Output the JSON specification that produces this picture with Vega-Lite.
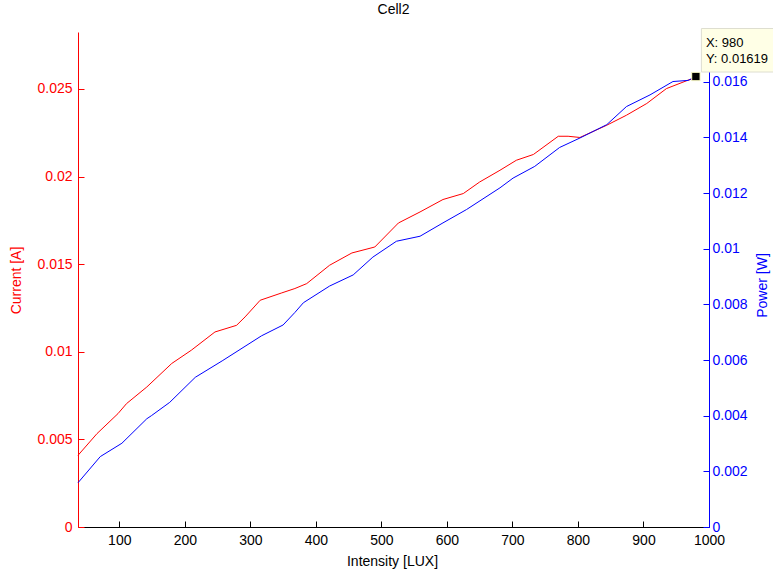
{
  "$schema": "https://vega.github.io/schema/vega-lite/v6.json",
  "width": 631,
  "height": 495,
  "autosize": {"type": "none"},
  "padding": {"left": 78, "top": 32, "right": 64, "bottom": 47},
  "background": "white",
  "config": {
    "view": {"stroke": null},
    "font": "Liberation Sans",
    "axis": {"labelFont": "Liberation Sans", "titleFont": "Liberation Sans", "labelFontSize": 14, "titleFontSize": 14, "titleFontWeight": "normal", "grid": false}
  },
  "title": {"text": "Cell2", "fontSize": 14, "fontWeight": "normal", "font": "Liberation Sans", "color": "#000000", "offset": 10, "anchor": "middle"},
  "datasets": {
    "current": [
      {"lux": 37, "current": 0.00409}, {"lux": 66, "current": 0.00533}, {"lux": 98, "current": 0.00647},
      {"lux": 111, "current": 0.00704}, {"lux": 142, "current": 0.00799}, {"lux": 180, "current": 0.00933},
      {"lux": 210, "current": 0.01009}, {"lux": 246, "current": 0.01113}, {"lux": 279, "current": 0.01151},
      {"lux": 292, "current": 0.01199}, {"lux": 315, "current": 0.01294}, {"lux": 348, "current": 0.01336},
      {"lux": 368, "current": 0.01361}, {"lux": 386, "current": 0.01389}, {"lux": 421, "current": 0.01494},
      {"lux": 455, "current": 0.01564}, {"lux": 490, "current": 0.01598}, {"lux": 526, "current": 0.01735},
      {"lux": 559, "current": 0.01798}, {"lux": 594, "current": 0.01869}, {"lux": 625, "current": 0.01903},
      {"lux": 650, "current": 0.01969}, {"lux": 681, "current": 0.02036}, {"lux": 706, "current": 0.02093},
      {"lux": 732, "current": 0.02126}, {"lux": 770, "current": 0.0223}, {"lux": 785, "current": 0.0223},
      {"lux": 803, "current": 0.02223}, {"lux": 844, "current": 0.02293}, {"lux": 874, "current": 0.0235},
      {"lux": 905, "current": 0.02417}, {"lux": 935, "current": 0.02502}, {"lux": 968, "current": 0.0255},
      {"lux": 980, "current": 0.02562}
    ],
    "power": [
      {"lux": 37, "power": 0.00159}, {"lux": 71, "power": 0.00253}, {"lux": 104, "power": 0.00301},
      {"lux": 142, "power": 0.00389}, {"lux": 149, "power": 0.004}, {"lux": 177, "power": 0.00448},
      {"lux": 216, "power": 0.00538}, {"lux": 257, "power": 0.00597},
      {"lux": 317, "power": 0.00687}, {"lux": 350, "power": 0.00726}, {"lux": 368, "power": 0.00771},
      {"lux": 381, "power": 0.00806}, {"lux": 421, "power": 0.00866}, {"lux": 457, "power": 0.00906},
      {"lux": 487, "power": 0.0097}, {"lux": 523, "power": 0.01027}, {"lux": 559, "power": 0.01045},
      {"lux": 594, "power": 0.01093}, {"lux": 630, "power": 0.01141}, {"lux": 681, "power": 0.01219},
      {"lux": 701, "power": 0.01254}, {"lux": 734, "power": 0.01296}, {"lux": 772, "power": 0.01364},
      {"lux": 803, "power": 0.01398}, {"lux": 844, "power": 0.01446}, {"lux": 874, "power": 0.01511},
      {"lux": 910, "power": 0.01553}, {"lux": 945, "power": 0.01601}, {"lux": 968, "power": 0.01605},
      {"lux": 980, "power": 0.01619}
    ],
    "tip": [{"lux": 980, "power": 0.01619}]
  },
  "layer": [
    {
      "data": {"name": "current"},
      "mark": {"type": "line", "color": "#ff0000", "strokeWidth": 1},
      "encoding": {
        "x": {
          "field": "lux", "type": "quantitative",
          "scale": {"domain": [37, 1000], "nice": false, "zero": false},
          "axis": {
            "title": "Intensity [LUX]", "values": [100, 200, 300, 400, 500, 600, 700, 800, 900, 1000], "format": "d",
            "domainColor": "#000000", "tickColor": "#000000", "labelColor": "#000000", "titleColor": "#000000",
            "tickSize": -6, "labelPadding": 12, "labelFlush": false, "labelOverlap": false,
            "titleX": 314, "titleY": 34, "titleBaseline": "middle", "titleAnchor": null
          }
        },
        "y": {
          "field": "current", "type": "quantitative",
          "scale": {"domain": [0, 0.02825], "nice": false},
          "axis": {
            "title": "Current [A]", "orient": "left", "values": [0, 0.005, 0.01, 0.015, 0.02, 0.025], "format": "~g",
            "domainColor": "#ff0000", "tickColor": "#ff0000", "labelColor": "#ff0000", "titleColor": "#ff0000",
            "tickSize": -6, "labelPadding": 12, "labelFlush": false, "labelOverlap": false,
            "titleX": -62, "titleY": 248, "titleAngle": 270, "titleBaseline": "middle", "titleAlign": "center"
          }
        }
      }
    },
    {
      "encoding": {
        "x": {"field": "lux", "type": "quantitative", "scale": {"domain": [37, 1000], "nice": false, "zero": false}},
        "y": {
          "field": "power", "type": "quantitative",
          "scale": {"domain": [0, 0.01779], "nice": false},
          "axis": {
            "title": "Power [W]", "orient": "right", "values": [0, 0.002, 0.004, 0.006, 0.008, 0.01, 0.012, 0.014, 0.016], "format": "~g",
            "domainColor": "#0000ff", "tickColor": "#0000ff", "labelColor": "#0000ff", "titleColor": "#0000ff",
            "tickSize": -6, "labelPadding": 9, "labelFlush": false, "labelOverlap": false,
            "titleX": 53, "titleY": 253, "titleAngle": 270, "titleBaseline": "middle", "titleAlign": "center"
          }
        }
      },
      "layer": [
        {
          "data": {"name": "power"},
          "mark": {"type": "line", "color": "#0000ff", "strokeWidth": 1}
        },
        {
          "data": {"name": "tip"},
          "mark": {"type": "point", "shape": "M0.11,-0.96H1.62V-0.09H0.11Z", "size": 10000, "filled": true, "fill": "#ffffe6", "stroke": "#deded0", "strokeWidth": 1, "opacity": 1}
        },
        {
          "data": {"name": "tip"},
          "mark": {"type": "point", "shape": "square", "size": 70, "filled": true, "fill": "#000000", "stroke": "#ffffcc", "strokeWidth": 1, "opacity": 1}
        },
        {
          "data": {"name": "tip"},
          "mark": {"type": "text", "text": "X: 980", "align": "left", "baseline": "middle", "dx": 10, "dy": -34, "fontSize": 13, "font": "Liberation Sans", "color": "#000000"}
        },
        {
          "data": {"name": "tip"},
          "mark": {"type": "text", "text": "Y: 0.01619", "align": "left", "baseline": "middle", "dx": 10, "dy": -18, "fontSize": 13, "font": "Liberation Sans", "color": "#000000"}
        }
      ]
    }
  ],
  "resolve": {"scale": {"y": "independent"}}
}
